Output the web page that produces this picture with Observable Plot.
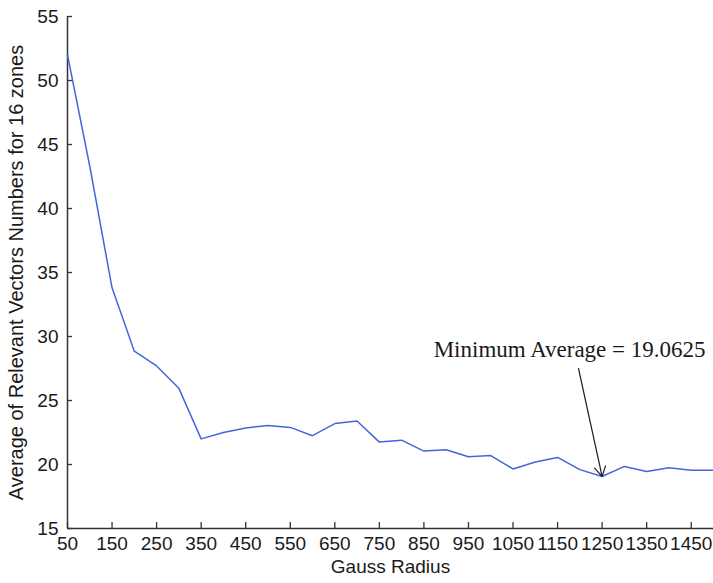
<!DOCTYPE html>
<html>
<head>
<meta charset="utf-8">
<script src="https://cdn.jsdelivr.net/npm/d3@7"></script>
<script src="https://cdn.jsdelivr.net/npm/@observablehq/plot@0.6"></script>
<style>
  html, body { margin: 0; padding: 0; background: #fff; }
  #chart { width: 713px; height: 583px; }
</style>
</head>
<body>
<div id="chart"></div>
<script>
const radius = [50,100,150,200,250,300,350,400,450,500,550,600,650,700,750,800,850,900,950,1000,1050,1100,1150,1200,1250,1300,1350,1400,1450,1500];
const average = [52.0,43.3,33.8,28.85,27.7,25.95,22.0,22.5,22.85,23.05,22.9,22.25,23.2,23.4,21.75,21.9,21.05,21.15,20.6,20.7,19.65,20.2,20.55,19.6,19.0625,19.85,19.45,19.75,19.55,19.55];
const xTicks = [50,150,250,350,450,550,650,750,850,950,1050,1150,1250,1350,1450];
const yTicks = [15,20,25,30,35,40,45,50,55];
const xLabel = "Gauss Radius";
const yLabel = "Average of Relevant Vectors Numbers for 16 zones";
const noteText = "Minimum Average = 19.0625";
const notePos = [{x: 1177, y: 29.0}];
const arrowPos = [{x1: 1197, y1: 27.5, x2: 1250, y2: 19.0625}];

const data = radius.map((r, i) => ({r, v: average[i]}));

const chart = Plot.plot({
  width: 713,
  height: 583,
  marginLeft: 67,
  marginRight: 0,
  marginTop: 16,
  marginBottom: 55,
  style: {fontFamily: "'Liberation Sans', Arial, sans-serif", fontSize: "19px", color: "#1a1a1a", background: "#fff"},
  x: {domain: [50, 1500]},
  y: {domain: [15, 55]},
  marks: [
    Plot.axisX({ticks: xTicks, tickFormat: d => String(d), tickSize: -6, tickPadding: 14, label: null, stroke: "#333", strokeWidth: 1.3, fontSize: 19}),
    Plot.axisY({ticks: yTicks, tickFormat: d => String(d), tickSize: -5, tickPadding: 14, label: null, stroke: "#333", strokeWidth: 1.3, fontSize: 19}),
    Plot.ruleX([50], {stroke: "#333", strokeWidth: 1.5}),
    Plot.ruleY([15], {stroke: "#333", strokeWidth: 1.5}),
    Plot.line(data, {x: "r", y: "v", stroke: "#4466dd", strokeWidth: 1.5}),
    Plot.arrow(arrowPos, {x1: "x1", y1: "y1", x2: "x2", y2: "y2", stroke: "#222", strokeWidth: 1.2, headLength: 14, bend: 0}),
    Plot.text(notePos, {x: "x", y: "y", text: () => noteText, fontFamily: "'Liberation Serif', 'Times New Roman', serif", fontSize: 23, fill: "#1a1a1a", textAnchor: "middle"}),
    Plot.text([xLabel], {text: d => d, frameAnchor: "bottom", textAnchor: "middle", dy: 44, fontSize: 19, fill: "#1a1a1a"}),
    Plot.text([yLabel], {text: d => d, frameAnchor: "left", textAnchor: "middle", dx: -51, rotate: -90, fontSize: 20, fill: "#1a1a1a"})
  ]
});
document.getElementById("chart").appendChild(chart);
</script>
</body>
</html>
